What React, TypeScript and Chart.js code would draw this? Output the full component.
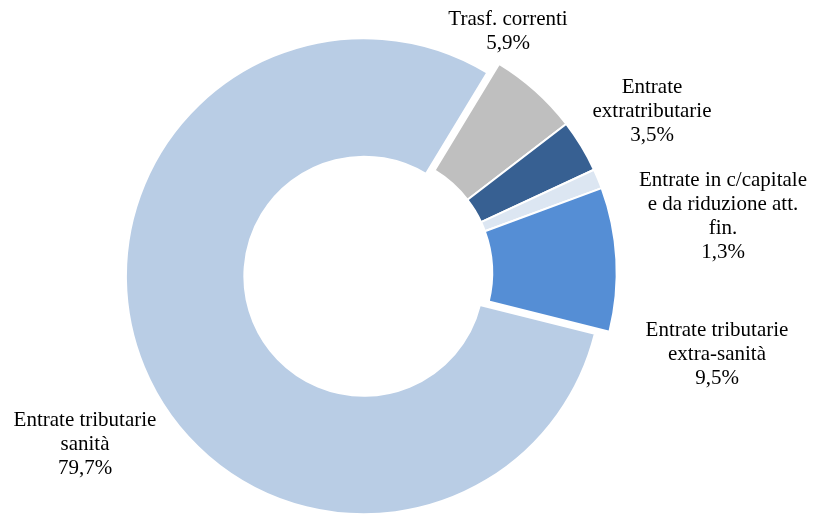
import React, { useEffect, useRef } from "react";
import { Chart, registerables } from "chart.js";

Chart.register(...registerables);

const categories = [
  "Trasf. correnti",
  "Entrate extratributarie",
  "Entrate in c/capitale e da riduzione att. fin.",
  "Entrate tributarie extra-sanità",
  "Entrate tributarie sanità",
];
const labelLines = [
  ["Trasf. correnti"],
  ["Entrate", "extratributarie"],
  ["Entrate in c/capitale", "e da riduzione att.", "fin."],
  ["Entrate tributarie", "extra-sanità"],
  ["Entrate tributarie", "sanità"],
];
const shares = [5.9, 3.5, 1.3, 9.5, 79.7];
const colors = ["#BFBFBF", "#376092", "#DCE6F2", "#558ED5", "#B9CDE5"];
// explosion (px shift along slice bisector) and radius trim of the exploded slice
const explode = [0, 0, 0, 0, 9.5];
const explodeTrim = [0, 0, 0, 0, 6];

// label anchor: centre x and first-line baseline
const labelAnchors = [
  { x: 508, y: 25 },
  { x: 652, y: 93 },
  { x: 723, y: 186 },
  { x: 717, y: 336 },
  { x: 85, y: 426 },
];

const fmt = (v: number) => v.toFixed(1).replace(".", ",") + "%";

const explodePlugin = {
  id: "explodeSlices",
  afterDatasetUpdate(chart: any, args: any) {
    const meta = args.meta;
    meta.data.forEach((arc: any, i: number) => {
      const d = explode[i] || 0;
      if (!d) return;
      const mid = (arc.startAngle + arc.endAngle) / 2;
      arc.x += Math.cos(mid) * d;
      arc.y += Math.sin(mid) * d;
      arc.outerRadius -= explodeTrim[i] || 0;
    });
  },
};

const labelPlugin = {
  id: "outLabels",
  afterDraw(chart: any) {
    const ctx = chart.ctx;
    ctx.save();
    ctx.font = '21px "Liberation Serif", "Times New Roman", serif';
    ctx.fillStyle = "#000";
    ctx.textAlign = "center";
    ctx.textBaseline = "alphabetic";
    shares.forEach((v, i) => {
      const lines = [...labelLines[i], fmt(v)];
      const a = labelAnchors[i];
      lines.forEach((t, k) => ctx.fillText(t, a.x, a.y + k * 24));
    });
    ctx.restore();
  },
};

export default function App() {
  const ref = useRef<HTMLCanvasElement | null>(null);
  useEffect(() => {
    if (!ref.current) return;
    const chart = new Chart(ref.current, {
      type: "doughnut",
      data: {
        labels: categories,
        datasets: [
          {
            data: shares,
            backgroundColor: colors,
            borderColor: "#FFFFFF",
            borderWidth: 2,
          },
        ],
      },
      options: {
        responsive: false,
        animation: false,
        rotation: 31.2,
        radius: 244,
        cutout: "49%",
        layout: { padding: { left: 0, right: 68.6, top: 29.2, bottom: 0 } },
        plugins: {
          legend: { display: false },
          tooltip: { enabled: false },
        },
      },
      plugins: [explodePlugin, labelPlugin],
    });
    return () => chart.destroy();
  }, []);
  return (
    <div style={{ position: "absolute", left: 0, top: 0, width: 814, height: 516, background: "#fff" }}>
      <canvas ref={ref} width={814} height={516} style={{ display: "block" }} />
    </div>
  );
}
